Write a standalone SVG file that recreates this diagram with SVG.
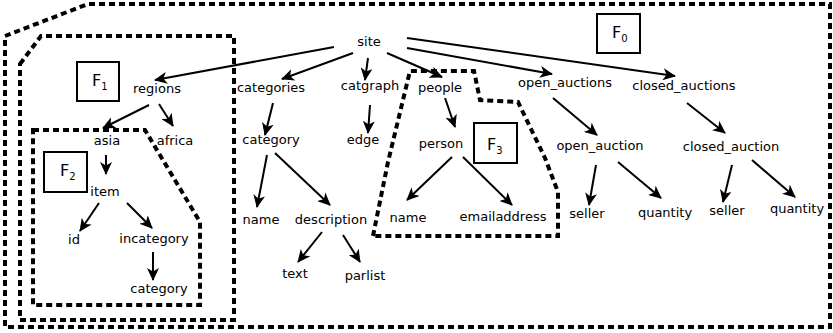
<svg xmlns="http://www.w3.org/2000/svg" width="833" height="333" viewBox="0 0 833 333">
<style>
.bd{fill:none;stroke:#000;stroke-width:4;stroke-dasharray:6 4}
.lbl{font-family:"DejaVu Sans",sans-serif;font-size:13px;fill:#000;text-anchor:middle}
.fb{fill:#fff;stroke:#000;stroke-width:2}
.ft{font-family:"DejaVu Sans",sans-serif;font-size:16px;fill:#000}
.fs{font-size:10px}
.e{stroke:#000;stroke-width:2;fill:none;marker-end:url(#ah)}
</style>
<defs>
<marker id="ah" markerUnits="userSpaceOnUse" markerWidth="14" markerHeight="12" refX="12" refY="6" orient="auto" viewBox="0 0 14 12">
<path d="M0,0 L13,6 L0,12 L3.5,6 Z" fill="#000"/>
</marker>
</defs>
<g id="boundaries">
<path id="F0-region" class="bd" d="M5,36 L88,4 L830,4 L830,327 L5,327 Z"/>
<path id="F1-region" class="bd" d="M20,64 L41,36 L234,36 L234,320 L20,320 Z"/>
<path id="F2-region" class="bd" d="M33,130 L145,130 L200,222 L200,305 L33,305 Z"/>
<path id="F3-region" class="bd" d="M373,236 L388,162 L410,71 L474,71 L480,100 L518,102 L545,158 L558,192 L558,236 Z"/>
</g>
<g id="connectors">
<line class="e" x1="334" y1="47" x2="155" y2="80"/>
<line class="e" x1="353" y1="53" x2="282" y2="79"/>
<line class="e" x1="368" y1="58" x2="365" y2="80"/>
<line class="e" x1="387" y1="53" x2="442" y2="77"/>
<line class="e" x1="407" y1="48" x2="552" y2="74"/>
<line class="e" x1="407" y1="38" x2="675" y2="76"/>
<line class="e" x1="149" y1="105" x2="103" y2="128"/>
<line class="e" x1="159" y1="104" x2="173" y2="126"/>
<line class="e" x1="106" y1="155" x2="106" y2="174"/>
<line class="e" x1="99" y1="203" x2="80" y2="231"/>
<line class="e" x1="127" y1="203" x2="152" y2="228"/>
<line class="e" x1="153" y1="252" x2="153" y2="280"/>
<line class="e" x1="273" y1="103" x2="265" y2="135"/>
<line class="e" x1="267" y1="155" x2="257" y2="207"/>
<line class="e" x1="275" y1="153" x2="330" y2="205"/>
<line class="e" x1="322" y1="232" x2="298" y2="262"/>
<line class="e" x1="343" y1="235" x2="360" y2="262"/>
<line class="e" x1="370" y1="105" x2="368" y2="133"/>
<line class="e" x1="445" y1="98" x2="455" y2="127"/>
<line class="e" x1="452" y1="157" x2="407" y2="200"/>
<line class="e" x1="463" y1="157" x2="512" y2="205"/>
<line class="e" x1="553" y1="98" x2="597" y2="135"/>
<line class="e" x1="687" y1="103" x2="725" y2="133"/>
<line class="e" x1="596" y1="165" x2="589" y2="205"/>
<line class="e" x1="618" y1="162" x2="661" y2="198"/>
<line class="e" x1="732" y1="165" x2="723" y2="202"/>
<line class="e" x1="752" y1="160" x2="795" y2="197"/>
</g>
<g id="F0"><rect class="fb" x="597" y="14" width="43" height="39"/><text class="ft" x="612" y="38">F<tspan class="fs" dy="4">0</tspan></text></g>
<g id="F1"><rect class="fb" x="77" y="62" width="42" height="39"/><text class="ft" x="92" y="86">F<tspan class="fs" dy="4">1</tspan></text></g>
<g id="F2"><rect class="fb" x="44" y="152" width="43" height="40"/><text class="ft" x="60" y="176">F<tspan class="fs" dy="4">2</tspan></text></g>
<g id="F3"><rect class="fb" x="474" y="123" width="43" height="40"/><text class="ft" x="487" y="150">F<tspan class="fs" dy="4">3</tspan></text></g>
<g id="n-site"><text class="lbl" x="369" y="46">site</text></g>
<g id="n-regions"><text class="lbl" x="157" y="93">regions</text></g>
<g id="n-categories"><text class="lbl" x="271" y="92">categories</text></g>
<g id="n-catgraph"><text class="lbl" x="370" y="90">catgraph</text></g>
<g id="n-people"><text class="lbl" x="440" y="92">people</text></g>
<g id="n-open_auctions"><text class="lbl" x="565" y="87">open_auctions</text></g>
<g id="n-closed_auctions"><text class="lbl" x="684" y="90">closed_auctions</text></g>
<g id="n-asia"><text class="lbl" x="107" y="145">asia</text></g>
<g id="n-africa"><text class="lbl" x="175" y="145">africa</text></g>
<g id="n-item"><text class="lbl" x="105" y="196">item</text></g>
<g id="n-id"><text class="lbl" x="74" y="244">id</text></g>
<g id="n-incategory"><text class="lbl" x="154" y="243">incategory</text></g>
<g id="n-category2"><text class="lbl" x="159" y="293">category</text></g>
<g id="n-category"><text class="lbl" x="271" y="144">category</text></g>
<g id="n-edge"><text class="lbl" x="363" y="144">edge</text></g>
<g id="n-person"><text class="lbl" x="441" y="148">person</text></g>
<g id="n-name1"><text class="lbl" x="261" y="224">name</text></g>
<g id="n-description"><text class="lbl" x="331" y="224">description</text></g>
<g id="n-text"><text class="lbl" x="295" y="278">text</text></g>
<g id="n-parlist"><text class="lbl" x="365" y="280">parlist</text></g>
<g id="n-name2"><text class="lbl" x="408" y="222">name</text></g>
<g id="n-emailaddress"><text class="lbl" x="503" y="221">emailaddress</text></g>
<g id="n-open_auction"><text class="lbl" x="600" y="150">open_auction</text></g>
<g id="n-closed_auction"><text class="lbl" x="731" y="151">closed_auction</text></g>
<g id="n-seller1"><text class="lbl" x="587" y="218">seller</text></g>
<g id="n-quantity1"><text class="lbl" x="665" y="217">quantity</text></g>
<g id="n-seller2"><text class="lbl" x="727" y="215">seller</text></g>
<g id="n-quantity2"><text class="lbl" x="797" y="213">quantity</text></g>
</svg>
